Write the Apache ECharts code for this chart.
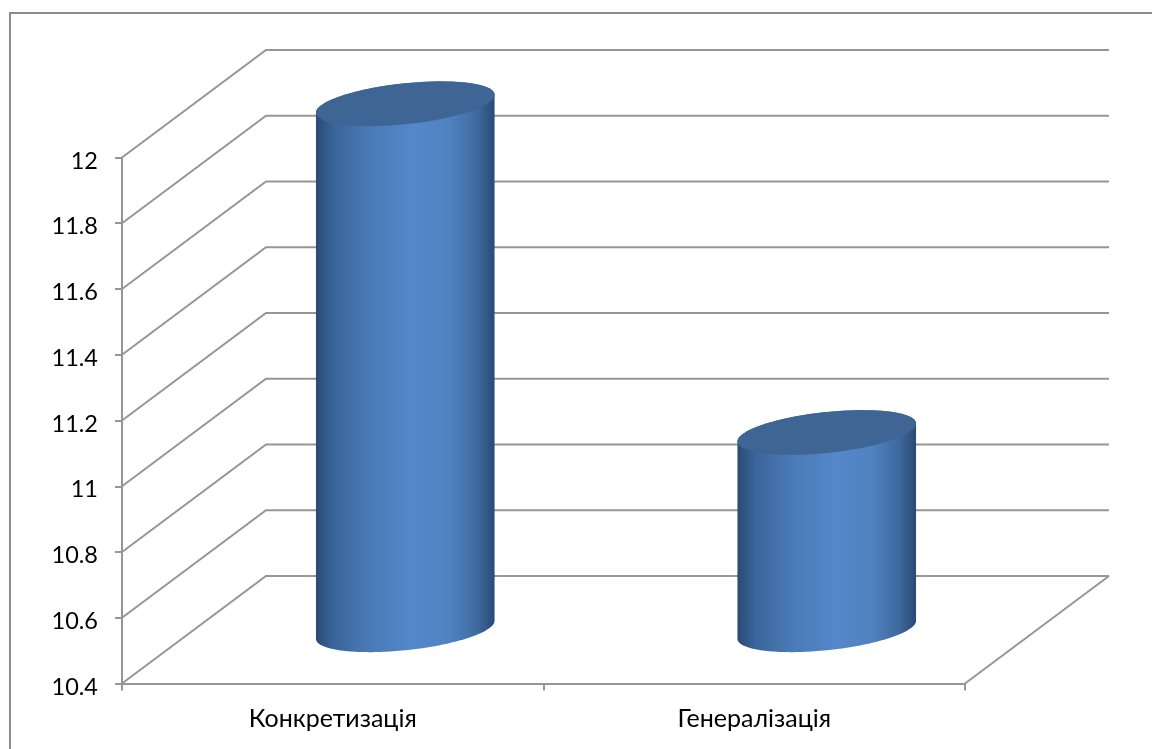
<!DOCTYPE html>
<html><head><meta charset="utf-8">
<style>html,body{margin:0;padding:0;background:#fff}#c{width:1152px;height:749px}</style>
<script src="https://cdn.jsdelivr.net/npm/echarts@6/dist/echarts.min.js"></script>
</head><body><div id="c"></div>
<script>
const categories = ['Конкретизація', 'Генералізація'];
const values = [12, 11];
const axisMin = 10.4, axisMax = 12, axisStep = 0.2;
const tickValues = [10.4, 10.6, 10.8, 11, 11.2, 11.4, 11.6, 11.8, 12];

const DX = 144, DY = -107.5, LINE = '#969696', LW = 2, FONT = 'Lato, "Open Sans"';
const R = 89.3, TILT = 9, MINOR = 20.5, BAR_SHIFT = 0.5;

const chart = echarts.init(document.getElementById('c'));
const bodyFill = () => new echarts.graphic.LinearGradient(0, 0, 1, 0, [
  {offset: 0, color: '#2a4a75'},
  {offset: 0.04, color: '#315582'},
  {offset: 0.1, color: '#3a659a'},
  {offset: 0.3, color: '#4a7ab6'},
  {offset: 0.55, color: '#5488cb'},
  {offset: 0.75, color: '#4f82c0'},
  {offset: 0.9, color: '#3f6a9f'},
  {offset: 1, color: '#2a4a74'}
]);
function arc(cx, cy, from, to) {
  const pts = [], n = 90;
  for (let i = 0; i <= n; i++) {
    const t = from + (to - from) * i / n;
    pts.push([cx + R * Math.cos(t), cy - MINOR * Math.sin(t) - TILT * Math.cos(t)]);
  }
  return pts;
}
chart.setOption({
  animation: false,
  backgroundColor: '#fff',
  grid: {left: 122, right: 187, top: 157.5, bottom: 749 - 683.5, containLabel: false},
  xAxis: {type: 'category', data: categories, boundaryGap: true,
    axisLine: {lineStyle: {color: LINE, width: LW}},
    axisTick: {show: true, length: 7, alignWithLabel: false, lineStyle: {color: LINE, width: LW}},
    axisLabel: {color: '#000', fontFamily: FONT, fontSize: 25, margin: 23}},
  yAxis: {type: 'value', min: axisMin, max: axisMax, interval: axisStep,
    axisLine: {show: true, lineStyle: {color: LINE, width: LW}},
    axisTick: {show: true, length: 7, lineStyle: {color: LINE, width: LW}},
    splitLine: {show: false},
    axisLabel: {color: '#000', fontFamily: FONT, fontSize: 23.5, margin: 24, verticalAlign: 'top', lineHeight: 7,
      formatter: v => String(+v.toFixed(1))}},
  graphic: [{type: 'rect', silent: true, z: -1,
    shape: {x: 10, y: 13, width: 1160, height: 760},
    style: {fill: 'none', stroke: '#8c8c8c', lineWidth: 2}}],
  series: [
    {type: 'custom', name: 'walls', z: 1, silent: true,
      data: tickValues.map(v => [0, v]),
      renderItem(p, api) {
        const cs = p.coordSys, y = api.coord([0, api.value(1)])[1];
        return {type: 'polyline',
          shape: {points: [[cs.x, y], [cs.x + DX, y + DY], [cs.x + cs.width + DX, y + DY]]},
          style: {fill: 'none', stroke: LINE, lineWidth: LW}};
      }},
    {type: 'custom', name: 'floor', z: 1, silent: true,
      data: [[0, axisMin]],
      renderItem(p, api) {
        const cs = p.coordSys, y = api.coord([0, api.value(1)])[1], x = cs.x + cs.width;
        return {type: 'line', shape: {x1: x, y1: y, x2: x + DX, y2: y + DY},
          style: {stroke: LINE, lineWidth: LW}};
      }},
    {type: 'custom', name: 'bars', z: 3, silent: true,
      data: values.map((v, i) => [i, v]),
      renderItem(p, api) {
        const top = api.coord([api.value(0), api.value(1)]);
        const bot = api.coord([api.value(0), axisMin]);
        const cx = top[0] + DX / 2 + BAR_SHIFT, ty = top[1] + DY / 2, by = bot[1] + DY / 2;
        const body = arc(cx, by, Math.PI, 2 * Math.PI).concat(arc(cx, ty, 0, Math.PI));
        return {type: 'group', children: [
          {type: 'polygon', shape: {points: body}, style: {fill: bodyFill()}},
          {type: 'polygon', shape: {points: arc(cx, ty, 0, 2 * Math.PI)}, style: {fill: '#3e6594'}}
        ]};
      }}
  ]
});
</script></body></html>
